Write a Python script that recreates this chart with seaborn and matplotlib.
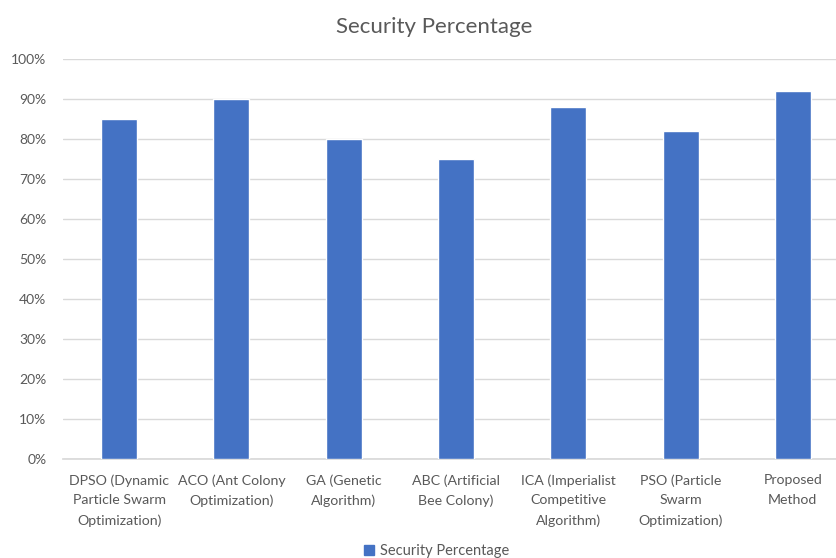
import matplotlib
matplotlib.use('Agg')
import matplotlib.pyplot as plt
import matplotlib.patches as mpatches
import seaborn as sns
import pandas as pd
from matplotlib.ticker import PercentFormatter

# Chart data
methods = [
    'DPSO (Dynamic\nParticle Swarm\nOptimization)',
    'ACO (Ant Colony\nOptimization)',
    'GA (Genetic\nAlgorithm)',
    'ABC (Artificial\nBee Colony)',
    'ICA (Imperialist\nCompetitive\nAlgorithm)',
    'PSO (Particle\nSwarm\nOptimization)',
    'Proposed\nMethod',
]
security = [0.85, 0.90, 0.80, 0.75, 0.88, 0.82, 0.92]

df = pd.DataFrame({'Method': methods, 'Security Percentage': security})

sns.set_theme(style='white')
plt.rcParams['font.family'] = ['Lato', 'DejaVu Sans']
text_color = '#595959'
bar_color = '#4472C4'

fig = plt.figure(figsize=(8.37, 5.58), dpi=100)
ax = fig.add_axes([63 / 837, 99 / 558, 786 / 837, 400 / 558])

sns.barplot(data=df, x='Method', y='Security Percentage', color=bar_color,
            width=0.32, saturation=1, ax=ax, zorder=3)

ax.set_ylim(0, 1.0)
ax.set_yticks([i / 10 for i in range(11)])
ax.yaxis.set_major_formatter(PercentFormatter(1.0, decimals=0))
ax.grid(axis='y', color='#D9D9D9', linewidth=1, zorder=0)
ax.set_xlabel('')
ax.set_ylabel('')
for s in ['top', 'right', 'left']:
    ax.spines[s].set_visible(False)
ax.spines['bottom'].set_color('#D9D9D9')
ax.tick_params(axis='both', length=0, colors=text_color, labelsize=10)
ax.tick_params(axis='x', pad=11, labelsize=10.2)
ax.tick_params(axis='y', pad=12)
for lbl in ax.get_xticklabels():
    lbl.set_linespacing(1.75)

fig.text(0.519, 0.952, 'Security Percentage', ha='center', va='center',
         fontsize=16, color=text_color)

handle = mpatches.Patch(color=bar_color, label='Security Percentage')
fig.legend(handles=[handle], loc='center', bbox_to_anchor=(0.522, 0.012),
           frameon=False, fontsize=10.5, labelcolor=text_color,
           handlelength=0.7, handleheight=0.7, handletextpad=0.4)

fig.savefig('out.png', dpi=100)
